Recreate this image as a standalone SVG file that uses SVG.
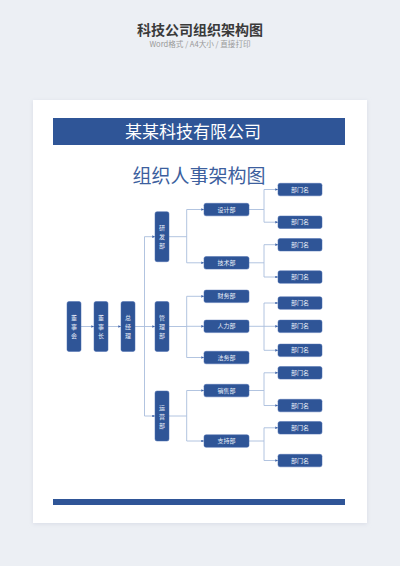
<svg xmlns="http://www.w3.org/2000/svg" width="400" height="566" viewBox="0 0 400 566">
<defs>
<style>
.bx{fill:#2f5597;stroke:#4a6db0;stroke-width:0.5}
.t{font-family:"Noto Sans CJK SC","Noto Sans",sans-serif;font-size:6px;fill:#e8eef8;text-anchor:middle}
.ln{fill:none;stroke:#a9bddd;stroke-width:0.9}
</style>
<marker id="ar" viewBox="0 0 6 6" refX="6" refY="3" markerWidth="3" markerHeight="3" orient="auto">
<path d="M0,0 L6,3 L0,6 z" fill="#3e63a8"/>
</marker>
<filter id="sh" x="-5%" y="-5%" width="110%" height="110%">
<feGaussianBlur stdDeviation="2"/>
</filter>
</defs>
<rect x="0" y="0" width="400" height="566" fill="#eceff4"/>
<text x="200" y="35" font-family="'Noto Sans CJK SC',sans-serif" font-size="14" font-weight="bold" fill="#3a3a3a" text-anchor="middle">科技公司组织架构图</text>
<text x="200" y="47" font-family="'Noto Sans CJK SC',sans-serif" font-size="7.6" fill="#999999" text-anchor="middle">Word格式 / A4大小 / 直接打印</text>
<rect x="33" y="101" width="334" height="423" fill="#d8dce6" filter="url(#sh)"/>
<rect x="33" y="100" width="334" height="423" fill="#ffffff"/>
<rect x="53" y="118" width="292" height="27" fill="#2f5597"/>
<text x="193" y="138" font-family="'Noto Sans CJK SC',sans-serif" font-size="17" fill="#ffffff" text-anchor="middle">某某科技有限公司</text>
<text x="199" y="183" font-family="'Noto Sans CJK SC',sans-serif" font-size="19" fill="#3d5f9e" text-anchor="middle">组织人事架构图</text>
<rect x="53" y="499" width="292" height="6" fill="#2f5597"/>

<g id="connectors">
<path class="ln" d="M81,326.5 H94" marker-end="url(#ar)"/>
<path class="ln" d="M108,326.5 H121" marker-end="url(#ar)"/>
<path class="ln" d="M134,326.5 H155" marker-end="url(#ar)"/>
<path class="ln" d="M144.5,236.7 V416"/>
<path class="ln" d="M144.5,236.7 H155" marker-end="url(#ar)"/>
<path class="ln" d="M144.5,416 H155" marker-end="url(#ar)"/>
<!-- 研发部 -->
<path class="ln" d="M169,236.7 H186.7 M186.7,209.5 V262.8"/>
<path class="ln" d="M186.7,209.5 H204" marker-end="url(#ar)"/>
<path class="ln" d="M186.7,262.8 H204" marker-end="url(#ar)"/>
<!-- 管理部 -->
<path class="ln" d="M169,326.5 H186.7 M186.7,296.3 V357.5"/>
<path class="ln" d="M186.7,296.3 H204" marker-end="url(#ar)"/>
<path class="ln" d="M186.7,326.3 H204" marker-end="url(#ar)"/>
<path class="ln" d="M186.7,357.5 H204" marker-end="url(#ar)"/>
<!-- 运营部 -->
<path class="ln" d="M169,416 H186.7 M186.7,390.5 V441"/>
<path class="ln" d="M186.7,390.5 H204" marker-end="url(#ar)"/>
<path class="ln" d="M186.7,441 H204" marker-end="url(#ar)"/>
<!-- level 3 -->
<path class="ln" d="M249,209.5 H264 M264,189.5 V222.2"/>
<path class="ln" d="M264,189.5 H278" marker-end="url(#ar)"/>
<path class="ln" d="M264,222.2 H278" marker-end="url(#ar)"/>
<path class="ln" d="M249,262.8 H264 M264,244.7 V277"/>
<path class="ln" d="M264,244.7 H278" marker-end="url(#ar)"/>
<path class="ln" d="M264,277 H278" marker-end="url(#ar)"/>
<path class="ln" d="M249,326.3 H264 M264,303 V350.3"/>
<path class="ln" d="M264,303 H278" marker-end="url(#ar)"/>
<path class="ln" d="M264,326.3 H278" marker-end="url(#ar)"/>
<path class="ln" d="M264,350.3 H278" marker-end="url(#ar)"/>
<path class="ln" d="M249,390.5 H264 M264,372.8 V405.5"/>
<path class="ln" d="M264,372.8 H278" marker-end="url(#ar)"/>
<path class="ln" d="M264,405.5 H278" marker-end="url(#ar)"/>
<path class="ln" d="M249,441 H264 M264,427.8 V460.5"/>
<path class="ln" d="M264,427.8 H278" marker-end="url(#ar)"/>
<path class="ln" d="M264,460.5 H278" marker-end="url(#ar)"/>
</g>

<g id="n-dongshihui"><rect class="bx" x="67" y="301.5" width="14" height="50" rx="2"/><text class="t" x="74"><tspan x="74" y="320">董</tspan><tspan x="74" y="329">事</tspan><tspan x="74" y="338">会</tspan></text></g>
<g id="n-dongshizhang"><rect class="bx" x="94" y="301.5" width="14" height="50" rx="2"/><text class="t" x="101"><tspan x="101" y="320">董</tspan><tspan x="101" y="329">事</tspan><tspan x="101" y="338">长</tspan></text></g>
<g id="n-zongjingli"><rect class="bx" x="121" y="301.5" width="14" height="50" rx="2"/><text class="t" x="128"><tspan x="128" y="320">总</tspan><tspan x="128" y="329">经</tspan><tspan x="128" y="338">理</tspan></text></g>
<g id="n-yanfa"><rect class="bx" x="155" y="211.7" width="14" height="50" rx="2"/><text class="t"><tspan x="162" y="230.2">研</tspan><tspan x="162" y="239.2">发</tspan><tspan x="162" y="248.2">部</tspan></text></g>
<g id="n-guanli"><rect class="bx" x="155" y="301.5" width="14" height="50" rx="2"/><text class="t"><tspan x="162" y="320">管</tspan><tspan x="162" y="329">理</tspan><tspan x="162" y="338">部</tspan></text></g>
<g id="n-yunying"><rect class="bx" x="155" y="391" width="14" height="50" rx="2"/><text class="t"><tspan x="162" y="409.5">运</tspan><tspan x="162" y="418.5">营</tspan><tspan x="162" y="427.5">部</tspan></text></g>

<g id="n-sheji"><rect class="bx" x="204" y="203.3" width="45" height="12.5" rx="2"/><text class="t" x="226.5" y="211.6">设计部</text></g>
<g id="n-jishu"><rect class="bx" x="204" y="256.6" width="45" height="12.5" rx="2"/><text class="t" x="226.5" y="264.9">技术部</text></g>
<g id="n-caiwu"><rect class="bx" x="204" y="290.1" width="45" height="12.5" rx="2"/><text class="t" x="226.5" y="298.4">财务部</text></g>
<g id="n-renli"><rect class="bx" x="204" y="320.1" width="45" height="12.5" rx="2"/><text class="t" x="226.5" y="328.4">人力部</text></g>
<g id="n-fawu"><rect class="bx" x="204" y="351.3" width="45" height="12.5" rx="2"/><text class="t" x="226.5" y="359.6">法务部</text></g>
<g id="n-xiaoshou"><rect class="bx" x="204" y="384.3" width="45" height="12.5" rx="2"/><text class="t" x="226.5" y="392.6">销售部</text></g>
<g id="n-zhichi"><rect class="bx" x="204" y="434.8" width="45" height="12.5" rx="2"/><text class="t" x="226.5" y="443.1">支持部</text></g>

<g id="n-d1"><rect class="bx" x="278" y="183.3" width="44" height="12.5" rx="2"/><text class="t" x="300" y="191.6">部门名</text></g>
<g id="n-d2"><rect class="bx" x="278" y="216" width="44" height="12.5" rx="2"/><text class="t" x="300" y="224.3">部门名</text></g>
<g id="n-d3"><rect class="bx" x="278" y="238.5" width="44" height="12.5" rx="2"/><text class="t" x="300" y="246.8">部门名</text></g>
<g id="n-d4"><rect class="bx" x="278" y="270.8" width="44" height="12.5" rx="2"/><text class="t" x="300" y="279.1">部门名</text></g>
<g id="n-d5"><rect class="bx" x="278" y="296.8" width="44" height="12.5" rx="2"/><text class="t" x="300" y="305.1">部门名</text></g>
<g id="n-d6"><rect class="bx" x="278" y="320.1" width="44" height="12.5" rx="2"/><text class="t" x="300" y="328.4">部门名</text></g>
<g id="n-d7"><rect class="bx" x="278" y="344.1" width="44" height="12.5" rx="2"/><text class="t" x="300" y="352.4">部门名</text></g>
<g id="n-d8"><rect class="bx" x="278" y="366.6" width="44" height="12.5" rx="2"/><text class="t" x="300" y="374.9">部门名</text></g>
<g id="n-d9"><rect class="bx" x="278" y="399.3" width="44" height="12.5" rx="2"/><text class="t" x="300" y="407.6">部门名</text></g>
<g id="n-d10"><rect class="bx" x="278" y="421.6" width="44" height="12.5" rx="2"/><text class="t" x="300" y="429.9">部门名</text></g>
<g id="n-d11"><rect class="bx" x="278" y="454.3" width="44" height="12.5" rx="2"/><text class="t" x="300" y="462.6">部门名</text></g>
</svg>
